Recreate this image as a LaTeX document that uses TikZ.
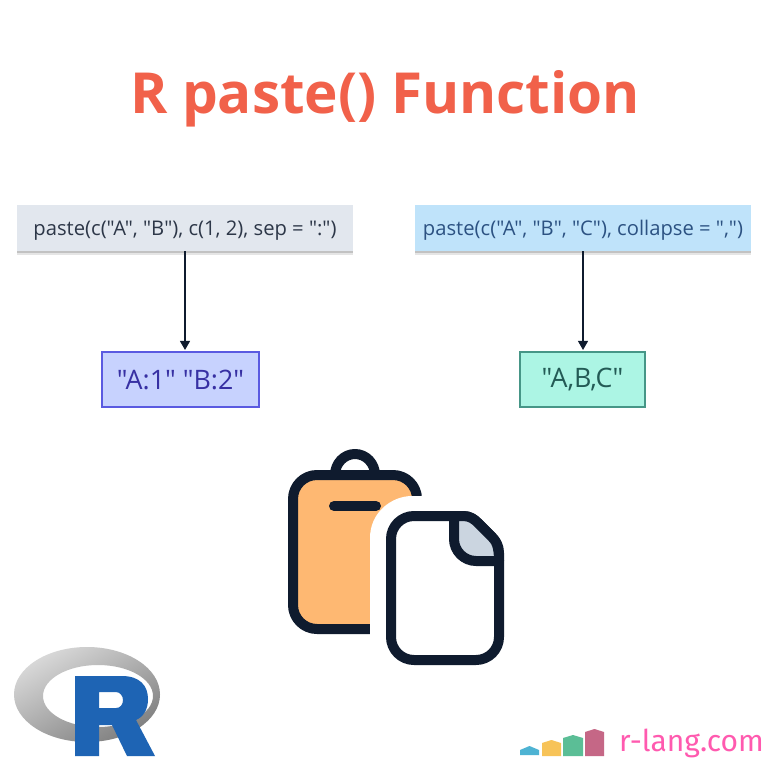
\documentclass[tikz,border=0pt]{standalone}
\usepackage{fontspec}
\setmainfont{Open Sans}
\newfontfamily\boxfont{Open Sans}
\newfontfamily\logofont{Fira Sans}[FontFace={m}{n}{Font=* Medium}]
\usetikzlibrary{arrows.meta,shadows}
\definecolor{titlecol}{HTML}{F1614A}
\definecolor{inkcol}{HTML}{0F1B2E}
\definecolor{grayfill}{HTML}{E2E7EE}
\definecolor{graytext}{HTML}{2D3748}
\definecolor{bluefill}{HTML}{BFE3FA}
\definecolor{bluetext}{HTML}{2C5282}
\definecolor{indigofill}{HTML}{C7D2FE}
\definecolor{indigoline}{HTML}{5A5AE1}
\definecolor{indigotext}{HTML}{3730A3}
\definecolor{tealfill}{HTML}{ACF5E4}
\definecolor{tealline}{HTML}{469687}
\definecolor{tealtext}{HTML}{235A55}
\definecolor{clipfill}{HTML}{FEB872}
\definecolor{foldfill}{HTML}{CBD5E0}
\definecolor{rblue}{HTML}{1E64B4}
\definecolor{sitepink}{HTML}{FF5AAF}
\definecolor{bara}{HTML}{4EB3D3}
\definecolor{barb}{HTML}{F7C358}
\definecolor{barc}{HTML}{5BBE96}
\definecolor{bard}{HTML}{C56786}
\newcommand{\codeline}[1]{\raisebox{-7.5pt}[0pt][0pt]{#1}}
\tikzset{
  x=1pt,y=-1pt,
  codebox/.style={minimum width=336pt,minimum height=46pt,inner sep=0pt,font=\boxfont\fontsize{20.2}{24}\selectfont,
    general shadow={fill=black,opacity=.10,shadow xshift=0pt,shadow yshift=-3.5pt},
    general shadow={fill=black,opacity=.15,shadow xshift=0pt,shadow yshift=-1.8pt}},
  resbox/.style={minimum height=55pt,inner sep=0pt,line width=1.1pt,font=\boxfont\fontsize{26.8}{32}\selectfont},
  link/.style={draw=inkcol,line width=1.1pt,shorten >=1.5pt,-{Triangle[length=9pt,width=10pt]}},
  ink/.style={draw=inkcol,line width=10pt,line cap=round,line join=round},
}
\begin{document}
\begin{tikzpicture}
\useasboundingbox[fill=white] (0,0) rectangle (768,768);
% title
\node[text=titlecol,font=\fontsize{56.6}{64}\selectfont\bfseries,inner sep=0pt] (title) at (385,99) {R paste() Function};
% boxes
\node[codebox,fill=grayfill,text=graytext] (a) at (185,228) {\codeline{paste(c("A", "B"), c(1, 2), sep = ":")}};
\node[codebox,fill=bluefill,text=bluetext] (b) at (583,228) {\codeline{paste(c("A", "B", "C"), collapse = ",")}};
\node[resbox,minimum width=157pt,draw=indigoline,fill=indigofill,text=indigotext] (c) at (180.5,379.5) {"A:1" "B:2"};
\node[resbox,minimum width=125pt,draw=tealline,fill=tealfill,text=tealtext] (d) at (582.5,379.5) {"A,B,C"};
\draw[link] (a.south) -- (a.south |- c.north);
\draw[link] (b.south) -- (b.south |- d.north);
% clipboard
\draw[ink,line cap=butt] (335,475) arc[start angle=180,end angle=360,x radius=20,y radius=21];
\path[fill=clipfill,ink] (317,475) -- (393,475) arc[start angle=270,end angle=360,radius=24] -- (417,605) arc[start angle=0,end angle=90,radius=24] -- (317,629) arc[start angle=90,end angle=180,radius=24] -- (293,499) arc[start angle=180,end angle=270,radius=24] -- cycle;
\draw[ink] (334,506) -- (376,506);
% white cut-out
\fill[white] (370,640) -- (370,538) .. controls (370,512) and (392,496) .. (412,496) -- (430,496) -- (430,640) -- cycle;
% document
\path[fill=white,ink] (413,516) -- (463,516) .. controls (470,516) and (474,519) .. (478,523) -- (492,537) .. controls (496,541) and (499,546) .. (499,553) -- (499,637) arc[start angle=0,end angle=90,radius=23] -- (414,660) arc[start angle=90,end angle=180,radius=23] -- (391,539) arc[start angle=180,end angle=270,radius=23] -- cycle;
\path[fill=foldfill,ink] (454,516) -- (463,516) .. controls (470,516) and (474,519) .. (478,523) -- (492,537) .. controls (496,541) and (499,546) .. (499,561) -- (476,561) .. controls (464,561) and (454,551) .. (454,539) -- cycle;
% R logo
\shade[even odd rule,left color=black!15,right color=black!50,shading angle=30]
  (87,694.5) ellipse[x radius=73,y radius=47.5]
  (98,696) ellipse[x radius=55,y radius=31];
\fill[even odd rule,fill=rblue]
  (75,676) -- (122,676) .. controls (140,676) and (148,686) .. (148,699) .. controls (148,710) and (143,717) .. (136,720) -- (155,756) -- (127,756) -- (112,725) -- (99,725) -- (99,756) -- (75,756) -- cycle
  (99,692) -- (116,692) .. controls (120,692) and (123,696) .. (123,700) .. controls (123,705) and (120,708) .. (116,708) -- (99,708) -- cycle;
% r-lang logo
\fill[fill=bara] (520,755) -- (520,750) -- (529.5,746) -- (539,750) -- (539,755) -- cycle;
\fill[fill=barb] (542,756) -- (542,743) -- (551.5,740) -- (561,743) -- (561,756) -- cycle;
\fill[fill=barc] (563,756) -- (563,738) -- (573,735) -- (583,738) -- (583,756) -- cycle;
\fill[fill=bard] (585,756) -- (585,732) -- (594.5,729) -- (604,732) -- (604,756) -- cycle;
\node[anchor=base west,inner sep=0pt,text=sitepink,font=\logofont\fontsize{30}{34}\selectfont] (site) at (619,751) {r-lang.com};
\end{tikzpicture}
\end{document}
